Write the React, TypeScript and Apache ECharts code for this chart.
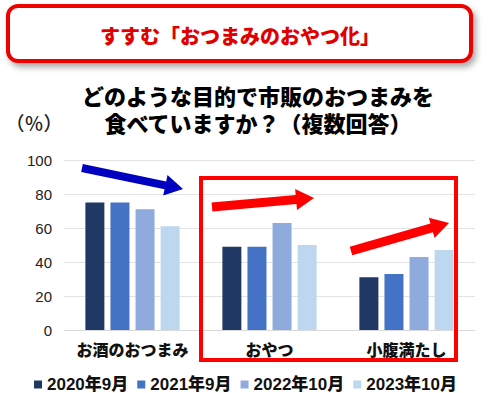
import React, { useEffect, useRef } from "react";
import * as echarts from "echarts";

const categories = ["お酒のおつまみ", "おやつ", "小腹満たし"];
const seriesNames = ["2020年9月", "2021年9月", "2022年10月", "2023年10月"];
const values2020 = [75, 49, 31];
const values2021 = [75, 49, 33];
const values2022 = [71, 63, 43];
const values2023 = [61, 50, 47];
const colors = ["#203864", "#4472C4", "#8FAADC", "#BDD7EE"];
const yTicks = [0, 20, 40, 60, 80, 100];

const titleText = "すすむ「おつまみのおやつ化」";
const subtitle1 = "どのような目的で市販のおつまみを";
const subtitle2 = "食べていますか？（複数回答）";
const unitText = "（％）";

const FONT = '"Liberation Sans", Arial, "Noto Sans CJK JP", sans-serif';
const CJK = '"Noto Sans CJK JP", "Liberation Sans", sans-serif';

function arrow(x1: number, y1: number, x2: number, y2: number, sw: number, hw: number, hl: number, color: string) {
  const dx = x2 - x1, dy = y2 - y1;
  const len = Math.sqrt(dx * dx + dy * dy);
  const ux = dx / len, uy = dy / len;
  const nx = -uy, ny = ux;
  const bx = x2 - ux * hl, by = y2 - uy * hl;
  const pts = [
    [x1 + nx * sw / 2, y1 + ny * sw / 2],
    [bx + nx * sw / 2, by + ny * sw / 2],
    [bx + nx * hw / 2, by + ny * hw / 2],
    [x2, y2],
    [bx - nx * hw / 2, by - ny * hw / 2],
    [bx - nx * sw / 2, by - ny * sw / 2],
    [x1 - nx * sw / 2, y1 - ny * sw / 2],
  ];
  return { type: "polygon", shape: { points: pts }, style: { fill: color }, z: 10 };
}

export default function App() {
  const ref = useRef<HTMLDivElement>(null);
  useEffect(() => {
    if (!ref.current) return;
    const chart = echarts.init(ref.current, null, { renderer: "svg" });
    const all = [values2020, values2021, values2022, values2023];
    chart.setOption({
      animation: false,
      backgroundColor: "#ffffff",
      grid: { left: 64, right: 13, top: 160, bottom: 63 },
      legend: {
        data: seriesNames,
        left: 29,
        top: 371,
        icon: "rect",
        itemWidth: 8,
        itemHeight: 8,
        itemGap: 9,
        textStyle: { fontSize: 17, fontWeight: 900, color: "#111", fontFamily: FONT },
      },
      xAxis: {
        type: "category",
        data: categories,
        axisLine: { lineStyle: { color: "#d9d9d9" } },
        axisTick: { show: false },
        axisLabel: { interval: 0, fontSize: 16, fontWeight: 900, color: "#111", fontFamily: CJK, margin: 11 },
      },
      yAxis: {
        type: "value",
        min: yTicks[0],
        max: yTicks[yTicks.length - 1],
        interval: 20,
        axisLabel: { fontSize: 15, color: "#222", fontFamily: FONT, margin: 12 },
        splitLine: { lineStyle: { color: "#e3e3e3" } },
      },
      series: all.map((d, i) => ({
        type: "bar",
        name: seriesNames[i],
        data: d,
        barWidth: 19,
        barGap: "32%",
        itemStyle: { color: colors[i] },
      })),
      graphic: [
        {
          type: "rect",
          shape: { x: 8, y: 6, width: 463, height: 55, r: 10 },
          style: {
            fill: "#ffffff",
            stroke: "#EE0000",
            lineWidth: 4,
            shadowBlur: 6,
            shadowOffsetX: 3,
            shadowOffsetY: 4,
            shadowColor: "rgba(0,0,0,0.35)",
          },
        },
        {
          type: "text",
          x: 240,
          y: 35,
          style: {
            text: titleText,
            fill: "#E00000",
            font: `900 20px ${CJK}`,
            textAlign: "center",
            textVerticalAlign: "middle",
          },
        },
        {
          type: "text",
          x: 258,
          y: 108,
          style: {
            text: subtitle1 + "\n" + subtitle2,
            fill: "#000",
            font: `900 22px ${CJK}`,
            lineHeight: 27,
            textAlign: "center",
            textVerticalAlign: "middle",
          },
        },
        {
          type: "text",
          x: 34,
          y: 122,
          style: { text: unitText, fill: "#222", font: `500 19px "Noto Sans CJK JP"`, textAlign: "center", textVerticalAlign: "middle" },
        },
        {
          type: "rect",
          shape: { x: 201, y: 178, width: 255, height: 182 },
          style: { fill: "none", stroke: "#FF0000", lineWidth: 4 },
          z: 10,
        },
        arrow(82, 168, 183, 189, 8, 21, 18, "#0000C0"),
        arrow(212, 207, 314, 198, 9, 21, 18, "#FF0000"),
        arrow(351, 251, 449, 223, 9, 21, 18, "#FF0000"),
      ],
    });
    return () => chart.dispose();
  }, []);
  return <div ref={ref} style={{ position: "absolute", left: 0, top: 0, width: 488, height: 393 }} />;
}
